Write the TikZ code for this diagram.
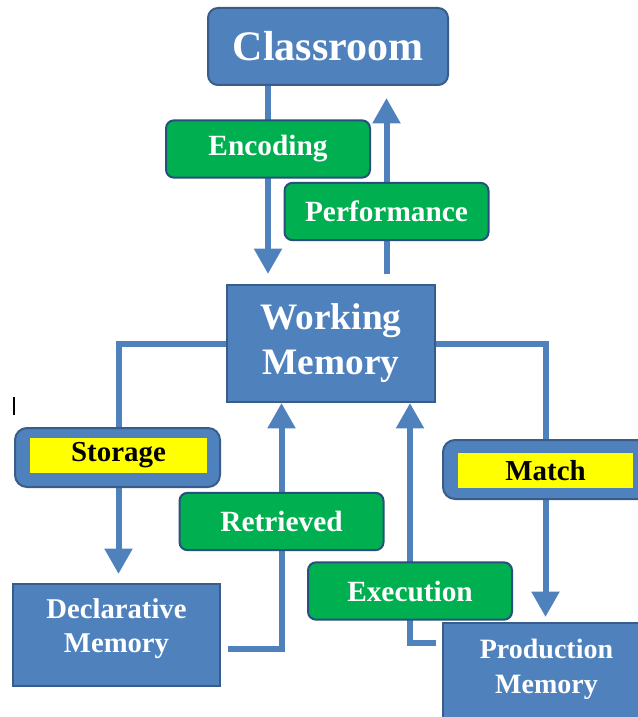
\documentclass[tikz,border=0pt]{standalone}
\usepackage{fontspec}
\setmainfont{Liberation Serif}
\usetikzlibrary{arrows.meta,backgrounds}
\definecolor{boxblue}{RGB}{79,129,189}
\definecolor{edgeblue}{RGB}{56,93,138}
\definecolor{boxgreen}{RGB}{0,176,80}
\definecolor{edgegreen}{RGB}{41,79,128}
\definecolor{tagyellow}{RGB}{255,255,0}

\begin{document}
\begin{tikzpicture}[x=0.75pt,y=0.75pt,yscale=-1,xscale=1,
  bluebox/.style={draw=edgeblue,line width=1.5pt,fill=boxblue,text=white,font=\bfseries,align=center,inner sep=0pt},
  greenbox/.style={draw=edgegreen,line width=1.5pt,fill=boxgreen,text=white,rounded corners=6pt,inner sep=0pt,
    minimum width=153pt,minimum height=43pt,font=\fontsize{22pt}{26pt}\bfseries\selectfont},
  tagbox/.style={draw=edgeblue,line width=1.5pt,fill=boxblue,rounded corners=9pt,minimum height=44.25pt,inner sep=0pt},
  taglabel/.style={fill=tagyellow,text=black,minimum height=26.25pt,inner sep=0pt,font=\fontsize{21.7pt}{26pt}\bfseries\selectfont},
  flow/.style={draw=boxblue,line width=4.5pt,-{Triangle[width=20pt,length=19pt]}},
  flowline/.style={draw=boxblue,line width=4.5pt,line cap=rect}]
\useasboundingbox (0,0) rectangle (638,717);

% Boxes
\node [bluebox,rounded corners=7.5pt,minimum width=180pt,minimum height=57.75pt,font=\fontsize{31.5pt}{36pt}\bfseries\selectfont] (cls) at (328,46.5) {Classroom};
\node [bluebox,minimum width=156pt,minimum height=87.75pt,font=\fontsize{28pt}{33.75pt}\bfseries\selectfont] (wm) at (331,343.5) {Working\\Memory};
\node [bluebox,minimum width=155.25pt,minimum height=76.5pt,text depth=13.5pt,font=\fontsize{21.5pt}{25.5pt}\bfseries\selectfont] (dec) at (116.5,635) {Declarative\\Memory};
\node [bluebox,anchor=north,minimum width=155.25pt,text height=52.5pt,text depth=45pt,font=\fontsize{21pt}{26.25pt}\bfseries\selectfont] (prod) at (546.5,622) {Production\\Memory};

% Tag Boxes
\node [tagbox,minimum width=153.75pt] (stor) at (117.5,457.5) {};
\node [taglabel,minimum width=132.75pt] (storlbl) at (118.5,455.5) {Storage};
\node [tagbox,minimum width=162.75pt] (mat) at (551.5,469.5) {};
\node [taglabel,minimum width=131.25pt] (matlbl) at (545.5,470.5) {Match};

% Label Boxes
\node [greenbox] (enc) at (268,149) {Encoding};
\node [greenbox] (perf) at (386.5,211.5) {Performance};
\node [greenbox] (ret) at (281.5,521.5) {Retrieved};
\node [greenbox] (exec) at (410,591) {Execution};

\begin{scope}[on background layer]
%Straight Lines
\draw [flow,shorten >=7.5pt] (enc |- cls.south) -- (enc |- wm.north);
\draw [flow,shorten <=7.5pt,shorten >=9pt] (perf |- wm.north) -- (perf |- cls.south);
%Elbow Lines
\draw [flowline] (wm.west) -| (storlbl |- stor.north);
\draw [flow,shorten >=6.75pt] (storlbl |- stor.south) -- (storlbl |- dec.north);
\draw [flowline] (wm.east) -| (matlbl |- mat.north);
\draw [flow,shorten >=3.75pt] (matlbl |- mat.south) -- (matlbl |- prod.north);
\draw [flow] ([shift={(7,14)}]dec.east) -| (ret |- wm.south);
\draw [flow] ([shift={(-6,21)}]prod.north west) -| (exec |- wm.south);
\end{scope}

% Text Cursor
\draw [line width=1.5pt] (14,397) -- (14,415);

\end{tikzpicture}
\end{document}
